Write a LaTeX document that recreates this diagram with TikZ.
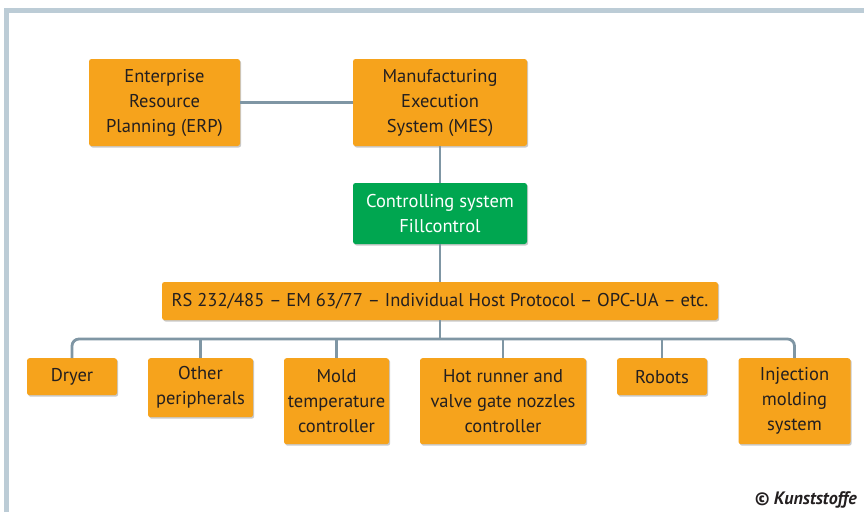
\documentclass[tikz,border=0pt]{standalone}
\usepackage{fontspec}
\setmainfont{PT Sans}
\usetikzlibrary{shadows}
\definecolor{boxorange}{HTML}{F6A31C}
\definecolor{boxgreen}{HTML}{00A650}
\definecolor{linegrey}{HTML}{7F96A4}
\definecolor{framegrey}{HTML}{BCCCD6}
\definecolor{txt}{HTML}{231F20}
\tikzset{
  box/.style={rectangle, rounded corners=2.5pt, fill=boxorange, text=txt, align=center,
    inner sep=0pt, font=\fontsize{18.5}{25}\selectfont,
    drop shadow={shadow xshift=1.2pt, shadow yshift=-1.5pt, opacity=0.35, fill=black!60}},
  greenbox/.style={box, fill=boxgreen, text=white},
  conn/.style={draw=linegrey, line width=2.8pt},
}
\begin{document}
\begin{tikzpicture}[x=1pt,y=-1pt]
\useasboundingbox (0,0) rectangle (864,512);
\fill[white] (0,0) rectangle (864,512);
\draw[framegrey, line width=5pt] (6.5,512) -- (6.5,10.5) -- (864,10.5);
% nodes
\node[box, minimum width=151, minimum height=87] (erp) at (164.5,102.5) {Enterprise\\Resource\\Planning (ERP)};
\node[box, minimum width=174, minimum height=87] (mes) at (440,102.5) {Manufacturing\\Execution\\System (MES)};
\node[greenbox, minimum width=174, minimum height=61] (ctrl) at (440,213.5) {Controlling system\\Fillcontrol};
\node[box, minimum width=556, minimum height=38] (proto) at (440,301) {RS 232/485 – EM 63/77 – Individual Host Protocol – OPC-UA – etc.};
\node[box, anchor=north, minimum width=90, minimum height=37] (dryer) at (72,358) {Dryer};
\node[box, anchor=north, minimum width=105, minimum height=59] (other) at (200.5,358) {Other\\peripherals};
\node[box, anchor=north, minimum width=105, minimum height=86] (mold) at (336.5,358) {Mold\\temperature\\controller};
\node[box, anchor=north, minimum width=166, minimum height=86] (hot) at (503,358) {Hot runner and\\valve gate nozzles\\controller};
\node[box, anchor=north, minimum width=90, minimum height=37] (robots) at (662,358) {Robots};
\node[box, anchor=north, minimum width=112, minimum height=86] (inj) at (794.5,358) {Injection\\molding\\system};
\node[anchor=south east, inner sep=0pt, text=txt, font=\fontsize{18}{20}\selectfont\bfseries\itshape] (copy) at (857,508) {© Kunststoffe};
\coordinate (bus) at (440,339);
% connectors
\draw[conn] (erp.east) -- (mes.west);
\draw[conn] (mes.south) -- (ctrl.north);
\draw[conn] (ctrl.south) -- (proto.north);
\draw[conn] (proto.south) -- (bus);
\draw[conn, rounded corners=7pt] (dryer.north) -- (dryer.north |- bus) -- (inj.north |- bus) -- (inj.north);
\draw[conn] (other.north) -- (other.north |- bus);
\draw[conn] (mold.north) -- (mold.north |- bus);
\draw[conn] (hot.north) -- (hot.north |- bus);
\draw[conn] (robots.north) -- (robots.north |- bus);
\end{tikzpicture}
\end{document}
